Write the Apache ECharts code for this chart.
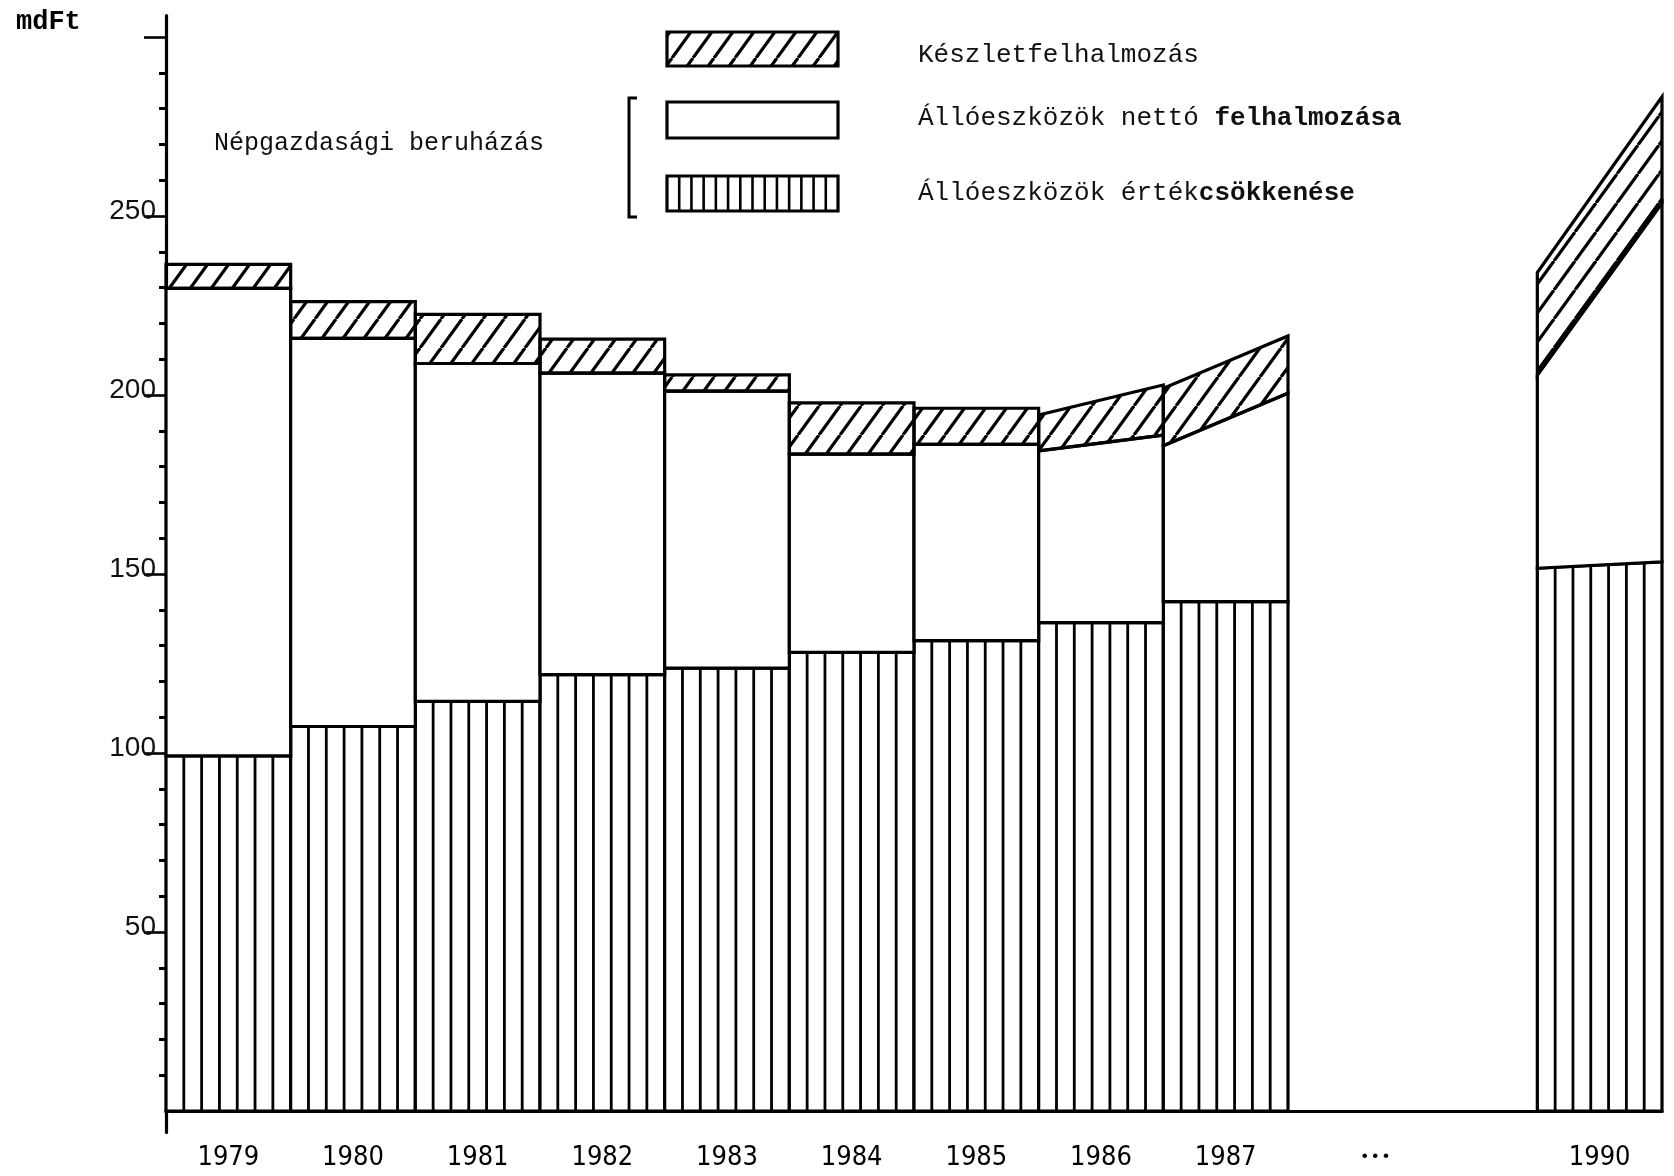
<!DOCTYPE html>
<html><head><meta charset="utf-8">
<script src="https://cdn.jsdelivr.net/npm/echarts@6/dist/echarts.min.js"></script>
<style>html,body{margin:0;padding:0;background:#fff}#c{width:1674px;height:1176px}</style>
</head><body><div id="c"></div>
<script>
// ---- data ----
const categories = ['1979','1980','1981','1982','1983','1984','1985','1986','1987','• • •','','1990'];
const yMajorTicks = [50,100,150,200,250,300];
const yTickLabels = [50,100,150,200,250];
const yMinorTicks = [10,20,30,40,60,70,80,90,110,120,130,140,160,170,180,190,210,220,230,240,260,270,280,290];
const unitLabel = 'mdFt';
const groupLabel = 'Népgazdasági beruházás';
const seriesNames = ['Készletfelhalmozás','Állóeszközök nettó felhalmozása','Állóeszközök értékcsökkenése'];
// values at left and right edge of each column (mdFt)
const depreciationLeft  = [99.2,107.4,114.4,121.9,123.7,128.1,131.4,136.4,142.3,null,null,151.6];
const depreciationRight = [99.2,107.4,114.4,121.9,123.7,128.1,131.4,136.4,142.3,null,null,153.4];
const netLeft   = [130.6,108.4,94.4,84.2,77.4,55.4,54.8,48.0,43.5,null,null,54.0];
const netRight  = [130.6,108.4,94.4,84.2,77.4,55.4,54.8,52.4,58.2,null,null,100.2];
const stockLeft  = [6.7,10.3,13.7,9.5,4.5,14.3,10.1,10.0,16.1,null,null,28.6];
const stockRight = [6.7,10.3,13.7,9.5,4.5,14.3,10.1,14.0,16.0,null,null,29.7];

// ---- patterns ----
function hatchCanvas(w, h, lw) {
  const cv = document.createElement('canvas'); cv.width = w; cv.height = h;
  const g = cv.getContext('2d'); g.strokeStyle = '#000'; g.lineWidth = lw;
  g.beginPath();
  [[0,h,w,0],[-w,h,0,0],[w,h,2*w,0]].forEach(s => { g.moveTo(s[0],s[1]); g.lineTo(s[2],s[3]); });
  g.stroke(); return cv;
}
const hatchFill = { image: hatchCanvas(21, 29, 3.2), repeat: 'repeat' };

// ---- build layered data ----
function layer(baseL, baseR, valL, valR) {
  const out = [];
  for (let i = 0; i < categories.length; i++) {
    if (valL[i] == null) continue;
    const bL = baseL ? baseL[i] : 0, bR = baseR ? baseR[i] : 0;
    out.push([i, bL, bR, bL + valL[i], bR + valR[i]]);
  }
  return out;
}
const stockBaseL = depreciationLeft.map((v,i) => v == null ? null : v + netLeft[i]);
const stockBaseR = depreciationRight.map((v,i) => v == null ? null : v + netRight[i]);
const deprData = layer(null, null, depreciationLeft, depreciationRight);
const netData = layer(depreciationLeft, depreciationRight, netLeft, netRight);
const stockData = layer(stockBaseL, stockBaseR, stockLeft, stockRight);

function makeRender(kind) {
  return function (params, api) {
    const i = api.value(0);
    const c = api.coord([i, 0]);
    const bw = api.size([1, 0])[0];
    const x0 = c[0] - bw / 2, x1 = c[0] + bw / 2;
    const yBL = api.coord([i, api.value(1)])[1], yBR = api.coord([i, api.value(2)])[1];
    const yTL = api.coord([i, api.value(3)])[1], yTR = api.coord([i, api.value(4)])[1];
    const pts = [[x0, yBL], [x1, yBR], [x1, yTR], [x0, yTL]];
    const children = [{ type: 'polygon', shape: { points: pts },
      style: { fill: kind === 'hatch' ? hatchFill : '#fff', stroke: 'none' } }];
    if (kind === 'stripe') {
      const n = 7;
      for (let k = 1; k < n; k++) {
        const t = k / n, x = x0 + bw * t;
        children.push({ type: 'line', shape: { x1: x, y1: yBL + (yBR - yBL) * t, x2: x, y2: yTL + (yTR - yTL) * t },
          style: { stroke: '#000', lineWidth: 2.8 } });
      }
    }
    children.push({ type: 'polygon', shape: { points: pts },
      style: { fill: 'none', stroke: '#000', lineWidth: 3.2, lineJoin: 'miter' } });
    return { type: 'group', children };
  };
}

// ---- legend graphics ----
const mono = "'Liberation Mono', 'DejaVu Sans Mono', monospace";
const graphics = [
  { type: 'text', left: 16, top: 9, style: { text: unitLabel, font: "bold 27px " + mono, fill: '#000' } },
  { type: 'text', left: 214, top: 131, style: { text: groupLabel, font: "25px " + mono, fill: '#111' } },
  { type: 'polyline', shape: { points: [[637, 98], [629, 98], [629, 217], [637, 217]] }, style: { stroke: '#000', lineWidth: 3, fill: 'none' } },
  { type: 'rect', shape: { x: 667, y: 32, width: 171, height: 34 }, style: { fill: hatchFill, stroke: '#000', lineWidth: 3.2 } },
  { type: 'rect', shape: { x: 667, y: 102, width: 171, height: 36 }, style: { fill: '#fff', stroke: '#000', lineWidth: 3.2 } },
  { type: 'rect', shape: { x: 667, y: 176, width: 171, height: 35 }, style: { fill: '#fff', stroke: '#000', lineWidth: 3.2 } },
  { type: 'text', left: 918, top: 42, style: { text: seriesNames[0], font: "26px " + mono, fill: '#111' } },
  { type: 'text', left: 918, top: 105, style: {
      text: '{a|Állóeszközök nettó }{b|felhalmozása}',
      rich: { a: { font: "26px " + mono, fill: '#111' }, b: { font: "bold 26px " + mono, fill: '#111' } } } },
  { type: 'text', left: 918, top: 180, style: {
      text: '{a|Állóeszközök érték}{b|csökkenése}',
      rich: { a: { font: "26px " + mono, fill: '#111' }, b: { font: "bold 26px " + mono, fill: '#111' } } } }
];
for (let k = 1; k < 14; k++) {
  const x = 667 + 171 * k / 14;
  graphics.push({ type: 'line', shape: { x1: x, y1: 176, x2: x, y2: 211 }, style: { stroke: '#000', lineWidth: 2.6 } });
}

const chart = echarts.init(document.getElementById('c'));
const yBase = { type: 'value', min: -6, max: 306, position: 'left', offset: 0, splitLine: { show: false } };
const narrow = "'Liberation Sans Narrow', 'DejaVu Sans Condensed', 'Liberation Sans', sans-serif";
chart.setOption({
  animation: false,
  backgroundColor: '#fff',
  grid: { left: 166, right: 12, top: 15.5, bottom: 43.5, containLabel: false, outerBoundsMode: 'none' },
  xAxis: {
    type: 'category',
    data: categories.map(c => c === '• • •' ? { value: c, textStyle: { padding: [0, 0, 0, 50], lineHeight: 24,
      fontFamily: "'Liberation Sans', sans-serif", fontSize: 17 } } : c),
    axisLine: { onZero: true, onZeroAxisIndex: 0, lineStyle: { color: '#000', width: 3.2 } },
    axisTick: { show: false },
    axisLabel: { interval: 0, margin: 12, color: '#000', fontSize: 27, fontFamily: narrow }
  },
  yAxis: [
    Object.assign({}, yBase, {
      axisLine: { show: true, lineStyle: { color: '#000', width: 3.2 } },
      axisTick: { show: true, customValues: yMinorTicks, length: 7, lineStyle: { color: '#000', width: 3 } },
      axisLabel: { show: false }
    }),
    Object.assign({}, yBase, {
      axisLine: { show: false },
      axisTick: { show: true, customValues: yMajorTicks, length: 22, lineStyle: { color: '#000', width: 2.6 } },
      axisLabel: { show: true, customValues: yTickLabels, margin: 10, verticalAlign: 'bottom', lineHeight: 10,
        color: '#111', fontSize: 28, fontFamily: "'Liberation Sans', Arial, sans-serif" }
    })
  ],
  graphic: graphics,
  series: [
    { type: 'custom', name: seriesNames[2], renderItem: makeRender('stripe'), data: deprData, encode: { x: 0, y: [3, 4] }, clip: false },
    { type: 'custom', name: seriesNames[1], renderItem: makeRender('plain'), data: netData, encode: { x: 0, y: [3, 4] }, clip: false },
    { type: 'custom', name: seriesNames[0], renderItem: makeRender('hatch'), data: stockData, encode: { x: 0, y: [3, 4] }, clip: false }
  ]
});
</script>
</body></html>
